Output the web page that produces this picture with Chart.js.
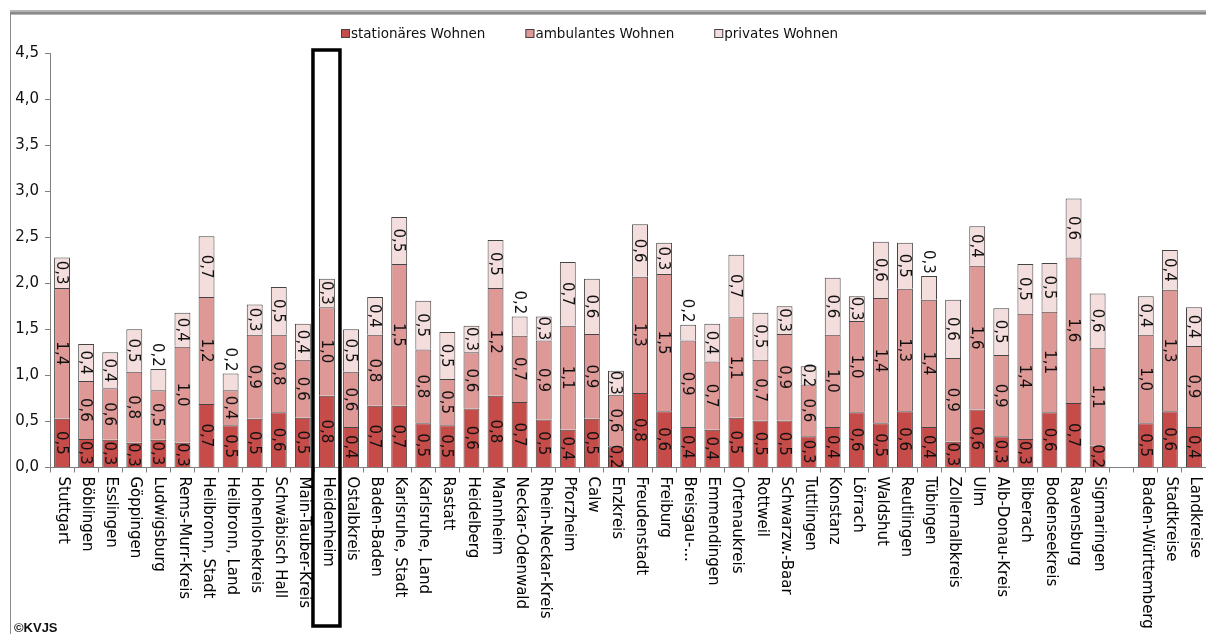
<!DOCTYPE html>
<html><head><meta charset="utf-8">
<script src="https://cdn.jsdelivr.net/npm/chart.js@4.4.0/dist/chart.umd.min.js"></script>
<style>html,body{margin:0;padding:0;background:#fff;overflow:hidden}#wrap{position:relative;width:1206px;height:634px}</style>
</head><body><div id="wrap"><canvas id="c" width="1206" height="634"></canvas></div>
<script>
const categories = ['Stuttgart','Böblingen','Esslingen','Göppingen','Ludwigsburg','Rems-Murr-Kreis','Heilbronn, Stadt','Heilbronn, Land','Hohenlohekreis','Schwäbisch Hall','Main-Tauber-Kreis','Heidenheim','Ostalbkreis','Baden-Baden','Karlsruhe, Stadt','Karlsruhe, Land','Rastatt','Heidelberg','Mannheim','Neckar-Odenwald','Rhein-Neckar-Kreis','Pforzheim','Calw','Enzkreis','Freudenstadt','Freiburg','Breisgau-...','Emmendingen','Ortenaukreis','Rottweil','Schwarzw.-Baar','Tuttlingen','Konstanz','Lörrach','Waldshut','Reutlingen','Tübingen','Zollernalbkreis','Ulm','Alb-Donau-Kreis','Biberach','Bodenseekreis','Ravensburg','Sigmaringen','','Baden-Württemberg','Stadtkreise','Landkreise'];
const stationaer = [0.53,0.31,0.30,0.27,0.30,0.27,0.69,0.46,0.53,0.60,0.54,0.78,0.44,0.67,0.67,0.48,0.46,0.64,0.78,0.71,0.52,0.41,0.53,0.23,0.81,0.61,0.44,0.41,0.54,0.51,0.51,0.34,0.44,0.60,0.48,0.61,0.44,0.28,0.63,0.34,0.31,0.60,0.70,0.24,null,0.48,0.61,0.44];
const ambulant = [1.42,0.63,0.56,0.77,0.54,1.04,1.16,0.38,0.91,0.84,0.63,0.96,0.60,0.77,1.54,0.80,0.50,0.61,1.17,0.72,0.86,1.13,0.92,0.56,1.26,1.49,0.94,0.74,1.09,0.66,0.94,0.56,1.00,0.99,1.36,1.33,1.38,0.91,1.56,0.88,1.36,1.09,1.58,1.06,null,0.96,1.32,0.88];
const privat = [0.33,0.40,0.39,0.46,0.23,0.37,0.66,0.18,0.33,0.52,0.39,0.31,0.46,0.41,0.51,0.53,0.51,0.29,0.52,0.21,0.26,0.69,0.60,0.26,0.57,0.34,0.17,0.41,0.68,0.51,0.30,0.20,0.62,0.27,0.61,0.50,0.26,0.63,0.43,0.51,0.54,0.53,0.64,0.59,null,0.42,0.43,0.42];
const seriesNames = ['stationäres Wohnen','ambulantes Wohnen','privates Wohnen'];
const seriesColors = ['#c64c4a','#de9896','#f4dedd'];
const yTicks = [0,0.5,1,1.5,2,2.5,3,3.5,4,4.5];
const highlighted = 'Heidenheim';
const labelsAbove = ['Ludwigsburg','Heilbronn, Land','Neckar-Odenwald','Breisgau-...','Tübingen'];
const source = '©KVJS';

const FONT = '"DejaVu Sans", Verdana, sans-serif';
const fmt = v => v.toFixed(1).replace('.', ',');

const decorPlugin = {
  id: 'decor',
  beforeDraw(chart) {
    const ctx = chart.ctx;
    ctx.save();
    ctx.fillStyle = '#fff';
    ctx.fillRect(0, 0, chart.width, chart.height);
    ctx.fillStyle = '#b4b4b4';
    ctx.fillRect(10, 10, chart.width - 10, 5);
    ctx.fillStyle = '#8a8a8a';
    ctx.fillRect(10, 12, chart.width - 10, 2);
    ctx.fillStyle = '#8a8a8a';
    ctx.fillRect(10, 12, 1, chart.height - 12);
    ctx.restore();
  },
  afterDatasetsDraw(chart) {
    const ctx = chart.ctx;
    const xs = chart.scales.x;
    const area = chart.chartArea;
    ctx.save();
    // data labels
    ctx.fillStyle = '#111';
    ctx.font = '15px ' + FONT;
    ctx.textAlign = 'center';
    ctx.textBaseline = 'middle';
    chart.data.datasets.forEach((ds, i) => {
      const meta = chart.getDatasetMeta(i);
      meta.data.forEach((bar, j) => {
        const v = ds.data[j];
        if (v == null) return;
        const p = bar.getProps(['x', 'y', 'base'], true);
        let cy = (p.y + p.base) / 2;
        if (i === 2 && labelsAbove.includes(categories[j])) cy = p.y - 14;
        ctx.save();
        ctx.translate(p.x, cy);
        ctx.rotate(Math.PI / 2);
        ctx.fillText(fmt(v), 0, 1);
        ctx.restore();
      });
    });
    // x labels
    ctx.fillStyle = '#000';
    ctx.font = '15px ' + FONT;
    ctx.textAlign = 'left';
    ctx.textBaseline = 'middle';
    categories.forEach((c, j) => {
      if (!c) return;
      const x = xs.getPixelForValue(j);
      ctx.save();
      ctx.translate(x + 1, area.bottom + 9);
      ctx.rotate(Math.PI / 2);
      ctx.fillText(c, 0, 0);
      ctx.restore();
    });
    // highlight box
    const hi = categories.indexOf(highlighted);
    const hx = xs.getPixelForValue(hi);
    ctx.strokeStyle = '#000';
    ctx.lineWidth = 3.5;
    ctx.strokeRect(hx - 14, 50, 27, 576);
    // legend
    ctx.font = '13.5px ' + FONT;
    ctx.textAlign = 'left';
    ctx.textBaseline = 'middle';
    let lx = 341;
    const ly = 34;
    chart.data.datasets.forEach((ds, i) => {
      ctx.fillStyle = ds.backgroundColor;
      ctx.fillRect(lx, ly - 5, 9, 9);
      ctx.strokeStyle = '#444';
      ctx.lineWidth = 1;
      ctx.strokeRect(lx + 0.5, ly - 4.5, 8, 8);
      ctx.fillStyle = '#111';
      ctx.fillText(ds.label, lx + 10, ly);
      lx += 10 + ctx.measureText(ds.label).width + 40;
    });
    // source
    ctx.font = 'bold 13px "Liberation Sans", Arial, sans-serif';
    ctx.fillStyle = '#111';
    ctx.textBaseline = 'alphabetic';
    ctx.fillText(source, 14, 632);
    ctx.restore();
  }
};

const mk = (label, data, color) => ({
  label, data, backgroundColor: color, borderColor: '#444', borderWidth: 1,
  categoryPercentage: 0.66, barPercentage: 1
});

new Chart(document.getElementById('c'), {
  type: 'bar',
  data: {
    labels: categories,
    datasets: [
      mk(seriesNames[0], stationaer, seriesColors[0]),
      mk(seriesNames[1], ambulant, seriesColors[1]),
      mk(seriesNames[2], privat, seriesColors[2])
    ]
  },
  options: {
    responsive: false,
    animation: false,
    devicePixelRatio: 1,
    layout: { padding: { top: 53, left: 0, right: 0, bottom: 0 } },
    plugins: { legend: { display: false }, tooltip: { enabled: false } },
    scales: {
      x: {
        stacked: true,
        offset: true,
        grid: { display: true, drawOnChartArea: false, drawTicks: true, tickLength: 5, color: '#808080', offset: true },
        border: { display: true, color: '#808080' },
        ticks: { display: false },
        afterFit: s => { s.height = 166.5; }
      },
      y: {
        stacked: true,
        min: 0, max: 4.5,
        afterBuildTicks: s => { s.ticks = yTicks.map(v => ({ value: v })); },
        ticks: { callback: v => fmt(v), font: { family: FONT, size: 15 }, color: '#111', padding: 6 },
        grid: { drawOnChartArea: false, drawTicks: true, tickLength: 5, color: '#808080' },
        border: { display: true, color: '#808080' },
        afterFit: s => { s.width = 50; }
      }
    }
  },
  plugins: [decorPlugin]
});
</script></body></html>
